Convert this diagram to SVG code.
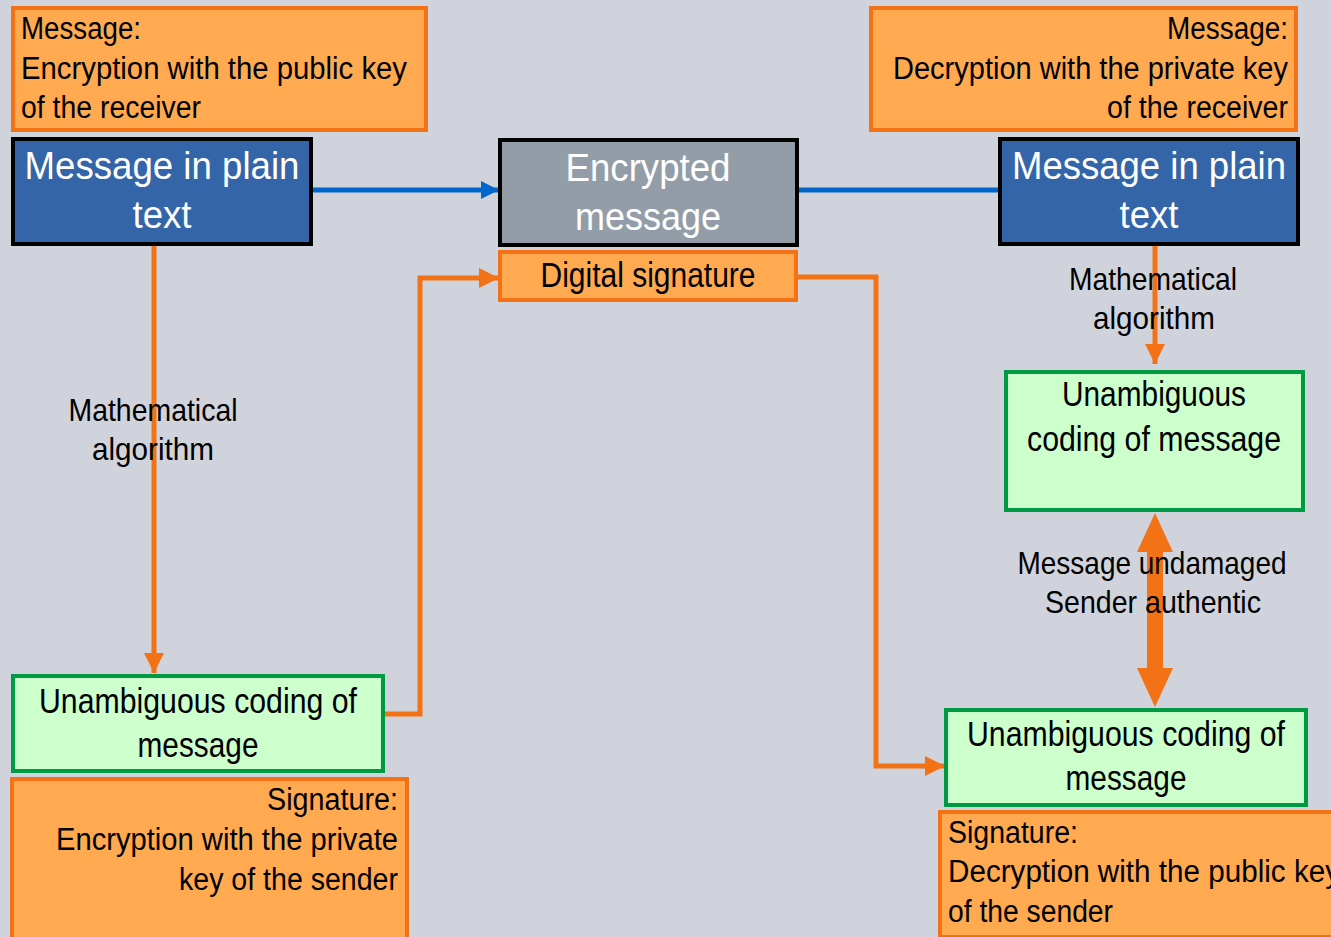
<svg xmlns="http://www.w3.org/2000/svg" width="1331" height="937" viewBox="0 0 1331 937">
  <style>
    text { font-family: "Liberation Sans", Arial, sans-serif; fill: #000; }
    .note { fill: #FFAA50; stroke: #F47216; stroke-width: 4; }
    .plain { fill: #3465A8; stroke: #000; stroke-width: 4; }
    .enc { fill: #939DA8; stroke: #000; stroke-width: 4; }
    .code { fill: #CCFFCC; stroke: #009A44; stroke-width: 4; }
    .w { fill: #fff; font-size: 39px; }
    .t29 { font-size: 31px; }
    .t31 { font-size: 32px; }
    .t33 { font-size: 35px; }
    .flow { fill: none; stroke: #F47216; stroke-width: 5; }
    .blue { fill: none; stroke: #0066CC; stroke-width: 5; }
  </style>
  <defs>
    <marker id="ah-orange" viewBox="0 0 10 10" refX="10" refY="5" markerWidth="4" markerHeight="4" orient="auto" markerUnits="strokeWidth">
      <path d="M0,0 L10,5 L0,10 z" fill="#F47216"/>
    </marker>
    <marker id="ah-blue" viewBox="0 0 10 10" refX="10" refY="5" markerWidth="3.6" markerHeight="4" orient="auto" markerUnits="strokeWidth">
      <path d="M0,0 L10,5 L0,10 z" fill="#0066CC"/>
    </marker>
  </defs>

  <rect width="1331" height="937" fill="#D0D3DB"/>

  <!-- connectors -->
  <g id="connectors">
    <line class="blue" x1="312" y1="190" x2="499" y2="190" marker-end="url(#ah-blue)"/>
    <line class="blue" x1="798" y1="190" x2="999" y2="190"/>
    <line class="flow" x1="154" y1="245" x2="154" y2="673" marker-end="url(#ah-orange)"/>
    <polyline class="flow" points="384,714 420,714 420,278 499,278" marker-end="url(#ah-orange)"/>
    <polyline class="flow" points="797,277 876,277 876,766 945,766" marker-end="url(#ah-orange)"/>
    <line class="flow" x1="1155" y1="245" x2="1155" y2="364" marker-end="url(#ah-orange)"/>
    <!-- double-headed verification arrow -->
    <path d="M1155,513 L1173,552 L1163,552 L1163,668 L1173,668 L1155,707 L1137,668 L1147,668 L1147,552 L1137,552 z" fill="#F47216"/>
  </g>

  <g id="note-encrypt">
    <rect class="note" x="13" y="8" width="413" height="122"/>
    <text class="t29" x="21" y="39" textLength="120" lengthAdjust="spacingAndGlyphs">Message:</text>
    <text class="t29" x="21" y="79" textLength="386" lengthAdjust="spacingAndGlyphs">Encryption with the public key</text>
    <text class="t29" x="21" y="118" textLength="180" lengthAdjust="spacingAndGlyphs">of the receiver</text>
  </g>

  <g id="plain-left">
    <rect class="plain" x="13" y="139" width="298" height="105"/>
    <text class="w" x="162" y="179" text-anchor="middle" textLength="275" lengthAdjust="spacingAndGlyphs">Message in plain</text>
    <text class="w" x="162" y="228" text-anchor="middle" textLength="59" lengthAdjust="spacingAndGlyphs">text</text>
  </g>

  <g id="encrypted">
    <rect class="enc" x="500" y="140" width="297" height="105"/>
    <text class="w" x="648" y="181" text-anchor="middle" textLength="165" lengthAdjust="spacingAndGlyphs">Encrypted</text>
    <text class="w" x="648" y="230" text-anchor="middle" textLength="146" lengthAdjust="spacingAndGlyphs">message</text>
  </g>

  <g id="signature-tag">
    <rect class="note" x="500" y="252" width="296" height="48"/>
    <text class="t33" x="648" y="287" text-anchor="middle" textLength="215" lengthAdjust="spacingAndGlyphs">Digital signature</text>
  </g>

  <g id="note-decrypt">
    <rect class="note" x="871" y="8" width="425" height="122"/>
    <text class="t29" x="1288" y="39" text-anchor="end" textLength="121" lengthAdjust="spacingAndGlyphs">Message:</text>
    <text class="t29" x="1288" y="79" text-anchor="end" textLength="395" lengthAdjust="spacingAndGlyphs">Decryption with the private key</text>
    <text class="t29" x="1288" y="118" text-anchor="end" textLength="181" lengthAdjust="spacingAndGlyphs">of the receiver</text>
  </g>

  <g id="plain-right">
    <rect class="plain" x="1000" y="139" width="298" height="105"/>
    <text class="w" x="1149" y="179" text-anchor="middle" textLength="274" lengthAdjust="spacingAndGlyphs">Message in plain</text>
    <text class="w" x="1149" y="228" text-anchor="middle" textLength="59" lengthAdjust="spacingAndGlyphs">text</text>
  </g>

  <g id="label-algo-left">
    <text class="t31" x="153" y="421" text-anchor="middle" textLength="169" lengthAdjust="spacingAndGlyphs">Mathematical</text>
    <text class="t31" x="153" y="460" text-anchor="middle" textLength="122" lengthAdjust="spacingAndGlyphs">algorithm</text>
  </g>

  <g id="label-algo-right">
    <text class="t31" x="1153" y="290" text-anchor="middle" textLength="168" lengthAdjust="spacingAndGlyphs">Mathematical</text>
    <text class="t31" x="1154" y="329" text-anchor="middle" textLength="122" lengthAdjust="spacingAndGlyphs">algorithm</text>
  </g>

  <g id="coding-left">
    <rect class="code" x="13" y="676" width="370" height="95"/>
    <text class="t33" x="198" y="713" text-anchor="middle" textLength="318" lengthAdjust="spacingAndGlyphs">Unambiguous coding of</text>
    <text class="t33" x="198" y="757" text-anchor="middle" textLength="121" lengthAdjust="spacingAndGlyphs">message</text>
  </g>

  <g id="note-sign">
    <rect class="note" x="12" y="779" width="395" height="162"/>
    <text class="t29" x="398" y="810" text-anchor="end" textLength="131" lengthAdjust="spacingAndGlyphs">Signature:</text>
    <text class="t29" x="398" y="850" text-anchor="end" textLength="342" lengthAdjust="spacingAndGlyphs">Encryption with the private</text>
    <text class="t29" x="398" y="890" text-anchor="end" textLength="219" lengthAdjust="spacingAndGlyphs">key of the sender</text>
  </g>

  <g id="coding-right-top">
    <rect class="code" x="1006" y="372" width="297" height="138"/>
    <text class="t33" x="1154" y="406" text-anchor="middle" textLength="184" lengthAdjust="spacingAndGlyphs">Unambiguous</text>
    <text class="t33" x="1154" y="451" text-anchor="middle" textLength="254" lengthAdjust="spacingAndGlyphs">coding of message</text>
  </g>

  <g id="label-verify">
    <text class="t31" x="1152" y="574" text-anchor="middle" textLength="269" lengthAdjust="spacingAndGlyphs">Message undamaged</text>
    <text class="t31" x="1153" y="613" text-anchor="middle" textLength="216" lengthAdjust="spacingAndGlyphs">Sender authentic</text>
  </g>

  <g id="coding-right-bottom">
    <rect class="code" x="946" y="710" width="360" height="95"/>
    <text class="t33" x="1126" y="746" text-anchor="middle" textLength="318" lengthAdjust="spacingAndGlyphs">Unambiguous coding of</text>
    <text class="t33" x="1126" y="790" text-anchor="middle" textLength="121" lengthAdjust="spacingAndGlyphs">message</text>
  </g>

  <g id="note-verify">
    <rect class="note" x="940" y="812" width="400" height="125"/>
    <text class="t29" x="948" y="843" textLength="130" lengthAdjust="spacingAndGlyphs">Signature:</text>
    <text class="t29" x="948" y="882" textLength="392" lengthAdjust="spacingAndGlyphs">Decryption with the public key</text>
    <text class="t29" x="948" y="922" textLength="165" lengthAdjust="spacingAndGlyphs">of the sender</text>
  </g>
</svg>
